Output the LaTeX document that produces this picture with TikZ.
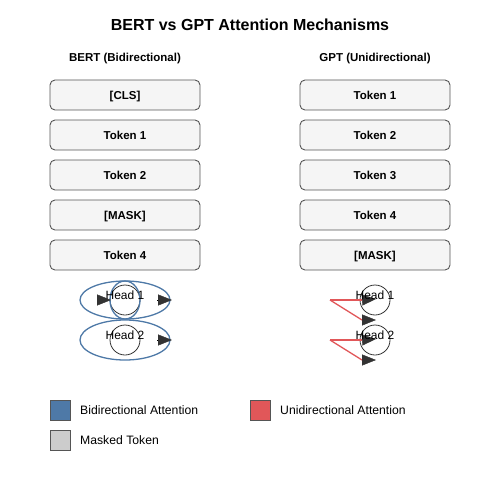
\documentclass[tikz,border=0pt]{standalone}
\usepackage{fontspec}
\setmainfont{Liberation Sans}
\usetikzlibrary{arrows.meta, positioning}

\definecolor{bertblue}{HTML}{4E79A7}
\definecolor{gptred}{HTML}{E15759}
\definecolor{maskgray}{HTML}{CCCCCC}
\definecolor{boxfill}{HTML}{F5F5F5}
\definecolor{boxline}{HTML}{555555}
\definecolor{tipgray}{HTML}{333333}

\begin{document}
\begin{tikzpicture}[
    x=1pt, y=-1pt,
    node distance=10pt,
    token/.style={
        rectangle,
        draw=boxline,
        line width=0.9pt,
        fill=boxfill,
        rounded corners=5pt,
        minimum width=150pt,
        minimum height=30pt,
        inner sep=0pt,
        outer sep=0pt,
        text height=8.2pt,
        text depth=0pt,
        font=\fontsize{11.5}{13}\selectfont\bfseries
    },
    head/.style={
        circle,
        draw=tipgray,
        line width=0.8pt,
        minimum size=30pt,
        inner sep=0pt
    },
    headlabel/.style={text height=8.6pt, text depth=0pt, inner sep=0pt,
        font=\fontsize{12}{14}\selectfont},
    bidir/.style={draw=bertblue, line width=1.3pt},
    unidir/.style={draw=gptred, line width=1.3pt},
    headtip/.style={-{Triangle[length=14pt, width=11pt, color=tipgray]}},
    swatch/.style={
        rectangle,
        draw=boxline,
        line width=0.8pt,
        minimum size=20pt,
        inner sep=0pt
    },
    legendtext/.style={anchor=west, inner sep=0pt, text height=8.6pt, text depth=0pt,
        font=\fontsize{12.2}{14}\selectfont},
    column/.style={text height=8.2pt, text depth=0pt, inner sep=0pt,
        font=\fontsize{11.5}{13}\selectfont\bfseries}
]
\useasboundingbox (0,0) rectangle (500,500);

\node[text height=11.5pt, text depth=0pt, inner sep=0pt,
      font=\fontsize{16}{19}\selectfont\bfseries] (title) at (250,24.7) {BERT vs GPT Attention Mechanisms};
\node[column] (bert) at (125,57.5) {BERT (Bidirectional)};
\node[column] (gpt) at (375,57.5) {GPT (Unidirectional)};

% BERT tokens
\node[token] (b1) at (125,95) {[CLS]};
\node[token, below=of b1] (b2) {Token 1};
\node[token, below=of b2] (b3) {Token 2};
\node[token, below=of b3] (b4) {[MASK]};
\node[token, below=of b4] (b5) {Token 4};

% GPT tokens
\node[token] (g1) at (375,95) {Token 1};
\node[token, below=of g1] (g2) {Token 2};
\node[token, below=of g2] (g3) {Token 3};
\node[token, below=of g3] (g4) {Token 4};
\node[token, below=of g4] (g5) {[MASK]};

% BERT heads
\node[head] (bh1) at (125,300) {};
\node[head] (bh2) at (125,340) {};
\draw[bidir] (bh1) ellipse [x radius=45pt, y radius=19pt];
\draw[bidir] (bh1) ellipse [x radius=15pt, y radius=19pt];
\draw[bidir] (bh2) ellipse [x radius=45pt, y radius=20pt];
\node[headlabel] at (125,295.5) {Head 1};
\node[headlabel] at (125,335.5) {Head 2};

\coordinate (bl1) at (97,300);
\coordinate (br1) at (157,300);
\coordinate (br2) at (157,340);
\draw[headtip] (bl1) -- +(14,0);
\draw[headtip] (br1) -- +(15,0);
\draw[headtip] (br2) -- +(15,0);

% GPT heads
\node[head] (gh1) at (375,300) {};
\node[head] (gh2) at (375,340) {};

\coordinate (gs1) at (330,300);
\coordinate (gs2) at (330,340);
\coordinate (ga1) at (362,300);
\coordinate (gb1) at (362,320);
\coordinate (ga2) at (362,340);
\coordinate (gb2) at (362,360);
\draw[unidir] (gs1) -- (ga1);
\draw[unidir] (gs1) -- (gb1);
\draw[unidir] (gs2) -- (ga2);
\draw[unidir] (gs2) -- (gb2);
\draw[headtip] (ga1) -- +(14,-1);
\draw[headtip] (gb1) -- +(14,0);
\draw[headtip] (ga2) -- +(14,-1);
\draw[headtip] (gb2) -- +(14,0);
\node[headlabel] at (375,295.5) {Head 1};
\node[headlabel] at (375,335.5) {Head 2};

% legend
\node[swatch, fill=bertblue] (lblue) at (60,410) {};
\node[legendtext] at (80,410) {Bidirectional Attention};
\node[swatch, fill=gptred] (lred) at (260,410) {};
\node[legendtext] at (280,410) {Unidirectional Attention};
\node[swatch, fill=maskgray] (lgray) at (60,440) {};
\node[legendtext] at (80,440) {Masked Token};

\end{tikzpicture}
\end{document}
